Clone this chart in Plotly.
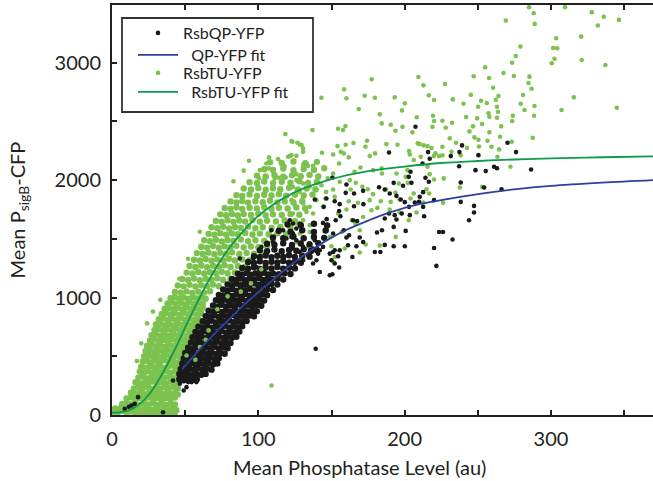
import plotly.graph_objects as go

# ---------------- data ----------------
# RsbTU-YFP (green) – low dense band
GREEN_LOW = [
    (1,28),(4,22),(7,35),(10,20),(13,30),(16,18),(19,26),(22,15),(25,24),(28,14),(31,22),(34,12),(37,20),(40,14),(43,22),
    (2,55),(6,62),(9,50),(12,65),(15,52),(18,60),(21,48),(24,58),(27,45),(30,55),(33,42),(36,52),(39,44),(42,55),(44,40),
    (7,95),(10,105),(13,92),(16,100),(19,88),(22,98),(25,90),(28,102),(31,88),(34,96),(37,85),(40,95),(43,90),
    (10,140),(13,150),(16,135),(19,145),(22,132),(25,148),(28,138),(31,145),(34,130),(37,142),(40,135),(43,148),
    (13,190),(16,180),(19,192),(22,178),(25,188),(28,182),(31,195),(34,176),(37,188),(40,180),(43,190),(45,175),
    (15,225),(18,238),(21,228),(24,240),(27,222),(30,235),(33,225),(36,238),(39,228),(42,240),(45,226),
    (16,280),(19,268),(22,278),(25,270),(28,285),(31,272),(34,280),(37,268),(40,282),(43,272),(46,280),
    (18,318),(21,328),(24,312),(27,325),(30,315),(33,330),(36,318),(39,326),(42,314),(45,328),
    (19,370),(22,360),(25,372),(28,358),(31,368),(34,362),(37,374),(40,360),(43,370),(46,362),
    (20,412),(23,402),(26,415),(29,405),(32,418),(35,400),(38,410),(41,420),(44,405),(47,415),
    (21,455),(24,462),(27,448),(30,460),(33,450),(36,465),(39,452),(42,458),(45,448),(48,462),
    (22,500),(25,508),(28,495),(31,505),(34,492),(37,510),(40,498),(43,505),(46,495),(49,505),
    (23,545),(26,552),(29,540),(32,550),(35,538),(38,555),(41,542),(44,550),(47,540),(50,548),(52,555),
    (24,590),(27,598),(30,585),(33,595),(36,582),(39,600),(42,588),(45,596),(48,585),(51,592),(54,600),
    (26,635),(29,642),(32,630),(35,640),(38,628),(41,645),(44,632),(47,640),(50,630),(53,638),(56,645),
    (27,680),(30,688),(33,675),(36,685),(39,672),(42,690),(45,678),(48,686),(51,675),(54,684),(57,690),
    (29,725),(32,732),(35,720),(38,730),(41,718),(44,735),(47,722),(50,730),(53,720),(56,728),
    (30,770),(33,778),(36,765),(39,775),(42,762),(45,780),(48,768),(51,776),(54,765),(57,774),(60,768),
    (32,815),(35,822),(38,810),(41,820),(44,808),(47,825),(50,812),(53,820),(56,810),(59,818),
    (34,860),(37,868),(40,855),(43,865),(46,852),(49,870),(52,858),(55,866),(58,855),(61,864),
    (36,905),(39,912),(42,900),(45,910),(48,898),(51,915),(54,902),(57,910),(60,900),(62,912),
    (38,950),(41,958),(44,945),(47,955),(50,942),(53,960),(56,948),(59,956),(62,945),
    (40,995),(43,1002),(46,990),(49,1000),(52,988),(55,1005),(58,992),(61,1000),(64,990),
]
GREEN_MID = [
    (43,1048),(47,1040),(51,1052),(55,1038),(59,1050),(63,1042),(67,1054),
    (45,1102),(49,1095),(53,1108),(57,1094),(61,1105),(65,1098),(69,1110),(73,1096),
    (48,1158),(52,1150),(56,1162),(60,1148),(64,1160),(68,1152),(72,1164),(76,1150),(81,1158),
    (51,1212),(55,1205),(59,1218),(63,1204),(67,1215),(71,1208),(75,1220),(79,1206),(84,1214),(88,1208),
    (53,1268),(57,1260),(61,1272),(65,1258),(69,1270),(73,1262),(77,1274),(81,1260),(86,1268),(91,1262),
    (56,1322),(60,1315),(64,1328),(68,1314),(72,1325),(76,1318),(80,1330),(84,1316),(89,1324),(94,1318),
    (58,1378),(62,1370),(66,1382),(70,1368),(74,1380),(78,1372),(82,1384),(87,1370),(92,1378),(97,1372),(103,1380),
    (61,1432),(65,1425),(69,1438),(73,1424),(77,1435),(81,1428),(85,1440),(90,1426),(95,1434),(100,1428),(106,1436),
    (63,1488),(67,1480),(71,1492),(75,1478),(79,1490),(83,1482),(88,1494),(93,1480),(98,1488),(104,1482),(110,1490),
    (66,1542),(70,1535),(74,1548),(78,1534),(82,1545),(86,1538),(91,1550),(96,1536),(101,1544),(107,1538),(113,1546),(119,1540),
    (68,1598),(72,1590),(76,1602),(80,1588),(84,1600),(88,1592),(93,1604),(98,1590),(103,1598),(109,1592),(115,1600),(122,1594),
    (71,1652),(75,1645),(79,1658),(83,1644),(87,1655),(91,1648),(96,1660),(101,1646),(106,1654),(112,1648),(118,1656),(125,1650),
    (74,1708),(78,1700),(82,1712),(86,1698),(90,1710),(95,1702),(100,1714),(105,1700),(110,1708),(116,1702),(122,1710),(128,1704),
    (77,1762),(81,1755),(85,1768),(89,1754),(94,1765),(99,1758),(104,1770),(109,1756),(114,1764),(120,1758),(126,1766),(132,1760),
    (81,1818),(85,1810),(89,1822),(93,1808),(98,1820),(103,1812),(108,1824),(113,1810),(118,1818),(124,1812),(130,1820),
    (85,1872),(89,1865),(94,1878),(99,1864),(104,1875),(109,1868),(114,1880),(119,1866),(125,1874),(131,1868),(137,1876),
    (90,1928),(95,1920),(100,1932),(105,1918),(110,1930),(115,1922),(121,1934),(127,1920),(133,1928),(139,1922),
    (94,1982),(99,1975),(104,1988),(110,1974),(116,1985),(122,1978),(128,1990),(134,1976),(140,1984),
    (99,2038),(105,2030),(111,2042),(117,2028),(123,2040),(129,2032),(135,2044),(141,2030),
    (104,2092),(110,2085),(117,2098),(124,2084),(131,2095),(138,2088),(145,2100),
    (108,2152),(116,2145),(124,2158),(132,2144),(140,2155),
]
GREEN_SPARSE = [
    (285.0,3471),(288.2,3420),(269.1,3357),(288.9,3329),(309.6,3471),(327.9,3429),(336.1,3389),(332.0,3315),(346.4,3363),
    (303.5,3207),(320.6,3221),(301.4,3124),(304.2,3122),(279.1,3136),(275.9,3056),(273.4,2999),(302.4,3033),(300.5,2994),
    (321.0,3022),(337.2,2979),(255.0,2960),(267.5,2911),(274.6,2886),(247.2,2883),(257.7,2869),(285.3,2880),(284.6,2826),
    (286.7,2777),(227.6,2818),(260.4,2786),(245.2,2726),(264.1,2715),(280.9,2724),(315.6,2704),(232.9,2687),(252.2,2675),
    (262.3,2684),(256.1,2656),(240.2,2650),(279.3,2650),(250.2,2624),(263.1,2624),(288.7,2630),(345.0,2615),(307.2,2596),
    (281.9,2596),(263.8,2581),(257.3,2568),(273.9,2547),(288.4,2547),(242.0,2536),(249.5,2525),(257.9,2539),(263.1,2530),
    (225.8,2505),(273.4,2502),(232.4,2488),(252.9,2477),(246.7,2457),(228.1,2445),(265.9,2457),(244.3,2414),(257.9,2406),
    (230.8,2355),(247.7,2363),(265.2,2368),(287.5,2360),(250.4,2343),(256.6,2334),(273.2,2326),(235.1,2317),(225.8,2283),
    (242.6,2274),(250.8,2286),(259.3,2283),(264.5,2261),(232.0,2240),(225.8,2210),(238.3,2210),(263.4,2198),
    (143.1,2701),(158.6,2772),(160.2,2696),(177.5,2858),(172.7,2718),(179.6,2701),(168.6,2604),(193.2,2704),(200.1,2653),
    (198.2,2593),(209.4,2877),(212.8,2806),(216.5,2721),(220.1,2681),(183.0,2559),(154.5,2436),(157.9,2425),(159.5,2459),
    (143.5,2232),(151.1,2218),(154.1,2289),(156.3,2240),(159.7,2300),(158.4,2227),(165.0,2315),(161.8,2193),(173.2,2283),
    (174.3,2334),(184.3,2482),(190.5,2471),(193.7,2419),(198.5,2453),(205.3,2406),(208.3,2534),(219.4,2547),(219.0,2453),
    (220.1,2502),(176.1,2204),(179.8,2227),(187.5,2306),(195.1,2300),(203.0,2246),(203.5,2218),(208.9,2312),(210.3,2306),
    (213.0,2295),(215.6,2289),(218.3,2272),(221.0,2227),(155.2,2141),(169.8,2107),(165.7,2070),(151.1,2056),(147.4,2014),
    (143.1,1956),(178.4,2084),(184.5,2056),(184.3,2099),(194.4,2056),(201.9,2084),(200.7,2027),(206.2,2170),(211.0,2198),
    (219.9,2204),(223.5,2204),(215.6,2113),(217.1,2050),(220.1,2005),(226.7,2014),(196.0,1971),(202.1,1976),(193.7,1894),
    (187.3,1920),(178.4,1880),(174.8,1922),(171.1,1942),(166.6,1976),(162.5,1999),(163.1,1920),(155.6,1985),(151.1,1920),
    (146.3,1899),(145.9,1843),(152.2,1857),(161.8,1820),(168.1,1806),(176.1,1829),(183.7,1820),(190.5,1814),(196.6,1835),
    (204.0,1843),(206.2,1886),(214.9,1922),(216.7,1886),(212.6,1809),(226.2,1806),(237.7,1937),(252.9,1942),(272.3,2113),
    (144.2,1772),(154.5,1715),(160.2,1749),(164.0,1658),(166.4,1630),(171.6,1686),(177.3,1743),(181.4,1763),(189.8,1749),
    (196.6,1724),(202.8,1658),(208.1,1724),(193.9,1516),(169.3,1573),(157.0,1558),(147.0,1573),(148.8,1516),
    (150.0,1436),(159.1,1417),(169.3,1383),(173.4,1451),(183.0,1442),(152.2,1345),(151.5,1303),
    (122.6,2332),(128.3,2303),(130.6,2240),(122.6,2212),(124.9,2061),(130.6,2127),(134.0,2121),(137.4,2121),(126.0,1999),
    (130.6,1971),(123.7,1942),(128.3,1899),(135.1,1942),(139.7,1914),(122.6,1829),(124.9,1786),(130.6,1800),(135.1,1772),
    (139.7,1829),(123.7,1715),(128.3,1701),(132.9,1729),(137.4,1715),(126.0,1630),(130.6,1658),(135.1,1616),(128.3,1545),
    (135.1,1558),(126.0,1473),(134.0,1431),(140.8,1459),
    (137.0,2425),(118.5,2391),(123.3,2326),(129.5,2297),(130.6,2269),(126.0,2206),(120.3,2198),(113.5,2178),(105.5,2141),
    (132.9,2147),(101.0,2084),(116.9,2113),(126.7,2317),(93.6,2164),(107.3,2193),(121.5,2204),(103.7,2090),(107.1,2099),
    (116.5,2141),(118.0,2118),(100.5,2014),(105.5,2022),(111.2,2014),(113.5,2022),(118.7,2022),(126.0,2050),
    (109.0,251),(17,460),(20,610),(24,780),(28,880),(33,980),(46,1160),(52,1330),(60,1560),(83,1990),(90,2080),
]
# green dots lying on top of the black cloud
GREEN_OVER = [(60,578),(50.9,507),(66,720),(72,900),(95,1120),(88,1050),(57,470),(79,1010),(102,1240),(64,640)]

# RsbQP-YFP (black)
BLACK_BAND = [
    (46,305),(49,295),(52,310),(55,298),(58,305),
    (46,350),(49,340),(52,352),(55,338),(58,348),(61,342),(64,350),
    (47,392),(50,385),(53,398),(56,384),(59,395),(62,388),(65,396),(68,386),
    (48,438),(51,430),(54,442),(57,428),(60,440),(63,432),(66,444),(69,430),(72,438),
    (49,482),(52,475),(55,488),(58,474),(61,485),(64,478),(67,490),(70,476),(73,484),
    (50,528),(53,520),(56,532),(59,518),(62,530),(65,522),(68,534),(71,520),(74,528),(77,522),
    (52,572),(55,565),(58,578),(61,564),(64,575),(67,568),(70,580),(73,566),(76,574),(79,568),
    (54,618),(57,610),(60,622),(63,608),(66,620),(69,612),(72,624),(75,610),(78,618),(81,612),
    (55,662),(58,655),(61,668),(64,654),(67,665),(70,658),(73,670),(76,656),(79,664),(82,658),(85,666),
    (57,708),(60,700),(63,712),(66,698),(69,710),(72,702),(75,714),(78,700),(81,708),(84,702),(87,710),
    (59,752),(62,745),(65,758),(68,744),(71,755),(74,748),(77,760),(80,746),(83,754),(86,748),(89,756),
    (62,798),(65,790),(68,802),(71,788),(74,800),(77,792),(80,804),(83,790),(86,798),(89,792),(92,800),
    (64,842),(67,835),(70,848),(73,834),(76,845),(79,838),(82,850),(85,836),(88,844),(91,838),(94,846),(97,840),
    (66,888),(69,880),(72,892),(75,878),(78,890),(81,882),(84,894),(87,880),(90,888),(93,882),(96,890),(99,884),
    (69,932),(72,925),(75,938),(78,924),(81,935),(84,928),(87,940),(90,926),(93,934),(96,928),(99,936),(102,930),
    (71,978),(74,970),(77,982),(80,968),(83,980),(86,972),(89,984),(92,970),(95,978),(98,972),(101,980),(104,974),
    (73,1022),(76,1015),(79,1028),(82,1014),(85,1025),(88,1018),(91,1030),(94,1016),(97,1024),(100,1018),(103,1026),(106,1020),
    (76,1068),(79,1060),(82,1072),(85,1058),(88,1070),(91,1062),(94,1074),(97,1060),(100,1068),(103,1062),(106,1070),(110,1064),
    (79,1112),(82,1105),(85,1118),(88,1104),(91,1115),(94,1108),(97,1120),(100,1106),(103,1114),(106,1108),(109,1116),(113,1110),
    (82,1158),(85,1150),(88,1162),(91,1148),(94,1160),(97,1152),(100,1164),(103,1150),(106,1158),(109,1152),(113,1160),(117,1154),
    (86,1202),(89,1195),(92,1208),(95,1194),(98,1205),(101,1198),(104,1210),(107,1196),(110,1204),(114,1198),(118,1206),(122,1200),
    (89,1252),(93,1245),(97,1258),(101,1244),(105,1255),(109,1248),(113,1260),(117,1246),(121,1254),(125,1248),
    (93,1302),(97,1295),(101,1308),(105,1294),(109,1305),(113,1298),(117,1310),(121,1296),(125,1304),(129,1298),
    (97,1352),(101,1345),(105,1358),(109,1344),(113,1355),(117,1348),(121,1360),(125,1346),(130,1354),(135,1348),
    (101,1402),(106,1395),(111,1408),(116,1394),(121,1405),(126,1398),(131,1410),(136,1396),(140,1404),
    (106,1458),(111,1450),(117,1462),(123,1448),(129,1460),(135,1452),(141,1462),
    (110,1512),(117,1505),(124,1518),(131,1504),(138,1515),(145,1508),
    (114,1568),(122,1560),(130,1572),(138,1558),(146,1570),
    (120,1622),(129,1615),(138,1628),(147,1614),
]
BLACK_SPARSE = [
    (239.2,2295),(237.4,2238),(250.4,2212),(270.3,2317),(276.1,2238),(231.5,2204),
    (207.4,2454),(189.3,2235),(216.0,2238),(217.1,2181),(212.2,2141),(237.2,2118),(248.4,2084),(255.4,2076),(261.1,2113),
    (263.1,2101),(286.4,2090),(238.3,1979),(254.3,1937),(266.2,1922),(160.2,1962),(150.6,2019),(182.5,1939),(192.5,1976),
    (198.9,1951),(204.6,1976),(202.8,2027),(204.0,2070),(214.2,2019),(216.5,1985),(212.6,1897),(220.1,1829),(238.3,1814),
    (247.4,1780),(247.4,1724),(244.0,1658),(223.5,1558),(226.2,1558),(232.7,1494),(159.7,1891),(165.4,1886),(171.6,1908),
    (186.4,1920),(189.8,1886),(194.4,1865),(197.3,1835),(200.1,1812),(206.9,1809),(209.8,1814),(210.3,1857),(212.6,1772),
    (213.3,1692),(203.0,1772),(203.5,1701),(198.0,1715),(194.4,1664),(193.2,1701),(189.3,1715),(186.4,1673),(192.5,1601),
    (200.7,1567),(184.5,1573),(181.1,1553),(171.8,1795),(165.4,1777),(155.6,1795),(155.2,1737),(152.2,1820),(146.5,1843),
    (144.7,1772),(146.7,1667),(144.2,1635),(152.9,1658),(156.1,1692),(158.4,1573),(162.0,1530),(164.7,1658),(167.5,1652),
    (169.3,1511),(151.1,1545),(160.2,1511),
    (142.0,1402),(148.8,1374),(151.1,1388),(152.2,1402),(155.6,1402),(150.0,1317),(152.2,1289),(154.5,1351),(155.2,1255),
    (164.3,1345),(167.0,1436),(171.6,1473),(179.6,1388),(183.4,1388),(186.4,1448),(192.5,1436),(200.1,1436),(220.1,1422),
    (221.7,1269),(148.8,1189),(150.6,1198),(142.0,1217),(161.3,1445),(144.2,1431),
    (139.7,1317),(129.5,1289),(124.9,1260),(123.7,1630),(126.0,1587),(129.5,1616),(122.6,1516),(126.0,1488),(130.6,1431),
    (135.1,1459),(138.6,1488),(137.4,1417),(128.3,1388),(123.7,1417),(134.0,1360),(140.8,1374),(130.6,1317),(137.4,1289),
    (138.6,1835),
    (87.3,1332),(101.0,1303),(108.9,1573),(119.2,1502),(123.7,1545),(128.3,1630),(121.5,1658),(116.9,1573),(110.0,1473),
    (102.1,1431),(96.4,1332),(91.9,1204),(98.7,1260),(105.5,1374),
    (139.2,564),(52.0,280),(56.5,294),(62.2,379),(49.0,209),(8.7,53),(11.5,70),(15.5,95),(17.8,152),(13.3,81),
    (34.9,24),(41.7,294),(46.3,266),(54.3,280),(57.7,280),(50.9,237),
]

# fitted curves
QP_FIT = [(48,390),(55,490),(60,560),(70,690),(80,815),(90,935),(100,1045),(110,1150),(120,1255),(130,1350),
          (140,1435),(150,1510),(160,1575),(175,1655),(190,1725),(210,1795),(230,1840),(250,1880),(275,1920),
          (300,1950),(335,1978),(370,2000)]
TU_FIT = [(0,20),(5,22),(10,34),(15,60),(20,105),(25,170),(30,260),(35,365),(40,485),(45,610),(50,745),(55,875),
          (60,1000),(65,1120),(70,1230),(75,1330),(80,1420),(90,1570),(100,1695),(110,1790),(120,1865),(130,1925),
          (140,1970),(160,2040),(180,2085),(200,2115),(225,2145),(250,2162),(275,2175),(300,2185),(335,2194),(370,2202)]

X_MAJOR = [0, 100, 200, 300]
X_MINOR = [50, 150, 250, 350]
Y_MAJOR = [0, 1000, 2000, 3000]
Y_MINOR = [500, 1500, 2500]

LEGEND_NAMES = ["RsbQP-YFP", "&nbsp;&nbsp;QP-YFP fit", "RsbTU-YFP", "&nbsp;&nbsp;RsbTU-YFP fit"]

# ---------------- styling ----------------
FONT = "Lato, 'Open Sans', sans-serif"
INK = "#231f20"
BLACK_DOT = "#1a1a1a"
GREEN_DOT = "#7cc24e"
GREEN_LINE = "#0f9b4a"
BLUE_LINE = "#2f3f9c"
DOT = 4.6          # isolated dots
DOT_DENSE = 6.4    # crowded cores of the clouds

# plot-area geometry (pixels) used to place the legend block
PLOT_L, PLOT_R, PLOT_T, PLOT_B = 112, 653, 5, 415
def px_x(p):
    return (p - PLOT_L) / (PLOT_R - PLOT_L)
def px_y(p):
    return (PLOT_B - p) / (PLOT_B - PLOT_T)

def xy(pts):
    return [p[0] for p in pts], [p[1] for p in pts]

glx, gly = xy(GREEN_LOW + GREEN_MID)
gsx, gsy = xy(GREEN_SPARSE)
blx, bly = xy(BLACK_BAND)
bsx, bsy = xy(BLACK_SPARSE)
ox, oy = xy(GREEN_OVER)
qx, qy = xy(QP_FIT)
tx, ty = xy(TU_FIT)

fig = go.Figure()
fig.add_trace(go.Scatter(x=glx, y=gly, mode="markers", showlegend=False, hoverinfo="skip",
                         marker=dict(color=GREEN_DOT, size=DOT_DENSE, line=dict(width=0))))
fig.add_trace(go.Scatter(x=gsx, y=gsy, mode="markers", name=LEGEND_NAMES[2], legend="legend3",
                         marker=dict(color=GREEN_DOT, size=DOT, line=dict(width=0))))
fig.add_trace(go.Scatter(x=blx, y=bly, mode="markers", showlegend=False, hoverinfo="skip",
                         marker=dict(color=BLACK_DOT, size=DOT_DENSE, line=dict(width=0))))
fig.add_trace(go.Scatter(x=bsx, y=bsy, mode="markers", name=LEGEND_NAMES[0], legend="legend",
                         marker=dict(color=BLACK_DOT, size=DOT, line=dict(width=0))))
fig.add_trace(go.Scatter(x=ox, y=oy, mode="markers", showlegend=False,
                         marker=dict(color=GREEN_DOT, size=DOT, line=dict(width=0))))
fig.add_trace(go.Scatter(x=qx, y=qy, mode="lines", name=LEGEND_NAMES[1], legend="legend2",
                         line=dict(color=BLUE_LINE, width=1.8, shape="spline")))
fig.add_trace(go.Scatter(x=tx, y=ty, mode="lines", name=LEGEND_NAMES[3], legend="legend4",
                         line=dict(color=GREEN_LINE, width=1.8, shape="spline")))

axis_common = dict(showgrid=False, zeroline=False, showline=True, linewidth=2, linecolor=INK,
                   ticks="inside", ticklen=5, tickwidth=1.5, tickcolor=INK,
                   tickfont=dict(family=FONT, size=20, color=INK))

fig.update_xaxes(range=[0, 369.7], tickmode="array", tickvals=X_MAJOR, mirror="ticks",
                 minor=dict(tickmode="array", tickvals=X_MINOR, ticks="inside", ticklen=5,
                            tickwidth=1.5, tickcolor=INK),
                 ticklabelstandoff=5, **axis_common)
fig.update_yaxes(range=[0, 3490], tickmode="array", tickvals=Y_MAJOR, mirror=False,
                 minor=dict(tickmode="array", tickvals=Y_MINOR, ticks="inside", ticklen=5,
                            tickwidth=1.5, tickcolor=INK),
                 ticklabelstandoff=5,
                 title=dict(text="Mean P<sub>sigB</sub>-CFP", font=dict(family=FONT, size=20, color=INK),
                            standoff=24),
                 **axis_common)

def one_legend(center_px):
    return dict(x=px_x(133), y=px_y(center_px), xanchor="left", yanchor="middle",
                bgcolor="rgba(0,0,0,0)", borderwidth=0,
                font=dict(family=FONT, size=16, color=INK), itemwidth=40)

fig.update_layout(
    width=653, height=481,
    margin=dict(l=PLOT_L, r=0, t=PLOT_T, b=481 - PLOT_B),
    plot_bgcolor="white", paper_bgcolor="white",
    font=dict(family=FONT, color=INK),
    legend=one_legend(33), legend2=one_legend(55), legend3=one_legend(73), legend4=one_legend(92),
    shapes=[dict(type="rect", xref="paper", yref="paper", layer="above",
                 x0=px_x(122), x1=px_x(313), y0=px_y(112), y1=px_y(18),
                 line=dict(color="#333333", width=1.8), fillcolor="white")],
    annotations=[dict(text="Mean Phosphatase Level (au)", xref="paper", yref="paper",
                      x=px_x(359), y=px_y(467), xanchor="center", yanchor="middle", showarrow=False,
                      font=dict(family=FONT, size=20, color=INK))],
)

fig.write_html("out.html")
